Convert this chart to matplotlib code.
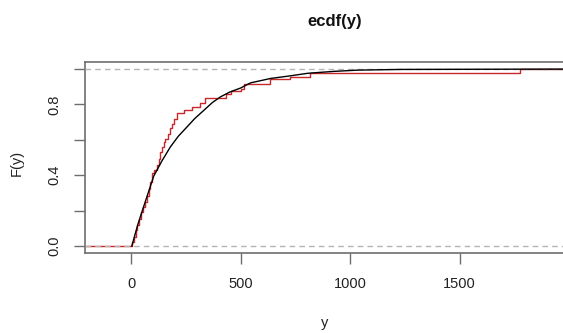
import matplotlib.pyplot as plt

plt.rcParams['font.family'] = ['Liberation Sans', 'DejaVu Sans']

# red empirical steps: jump position and level after the jump
red_x = [0, 5, 12, 20, 28, 36, 45, 55, 64, 72, 80, 88, 95, 105, 118, 125,
         133, 140, 148, 156, 166, 179, 186, 194, 209, 240, 278, 316, 339,
         435, 455, 500, 513, 632, 725, 815, 1775]
red_F = [0.0, 0.025, 0.05, 0.09, 0.12, 0.15, 0.19, 0.22, 0.25, 0.28, 0.32,
         0.36, 0.41, 0.43, 0.455, 0.49, 0.53, 0.56, 0.585, 0.607, 0.635,
         0.664, 0.69, 0.72, 0.752, 0.767, 0.786, 0.809, 0.839, 0.86, 0.875,
         0.89, 0.915, 0.943, 0.958, 0.976, 1.0]

# black reference curve
black_x = [3, 30, 56, 103, 140, 179, 215, 255, 290, 332, 370, 408, 450, 500,
           545, 637, 728, 805, 858, 927, 1034, 1232, 2000]
black_F = [0.0, 0.12, 0.219, 0.395, 0.48, 0.56, 0.62, 0.673, 0.72, 0.767,
           0.81, 0.843, 0.87, 0.893, 0.922, 0.947, 0.962, 0.976, 0.981,
           0.987, 0.994, 0.998, 1.0]

x_ticks = [0, 500, 1000, 1500]
y_ticks = [0.0, 0.2, 0.4, 0.6, 0.8, 1.0]
y_labels = ['0.0', '', '0.4', '', '0.8', '']

xmin, xmax = -211, 1995

fig = plt.figure(figsize=(5.63, 3.33), dpi=100)
ax = fig.add_axes([85 / 563, 80 / 333, 483 / 563, 191 / 333])

# red ecdf, extended to the left at 0 and to the right at 1
ax.step([xmin] + red_x + [xmax], [0.0] + red_F + [1.0], where='post',
        color='#c8282a', lw=1.0, zorder=2)
ax.axhline(0, color='#b4b4b4', lw=1.0, ls=(0, (4, 3)), zorder=3)
ax.axhline(1, color='#b4b4b4', lw=1.0, ls=(0, (4, 3)), zorder=3)
ax.plot(black_x, black_F, color='black', lw=1.0, zorder=4)

ax.set_xlim(xmin, xmax)
ax.set_ylim(-0.04, 1.04)
ax.set_xticks(x_ticks)
ax.set_yticks(y_ticks)
ax.set_yticklabels(y_labels, rotation=90, va='center')

for s in ax.spines.values():
    s.set_color('#6e6e6e')
    s.set_linewidth(1.2)
ax.tick_params(axis='both', colors='#6e6e6e', labelcolor='#222222',
               length=8, width=1.0, labelsize=10.5)
ax.tick_params(axis='x', pad=9)
ax.tick_params(axis='y', pad=9)

ax.set_title('ecdf(y)', fontsize=12, fontweight='bold', color='#111111',
             x=(335 - 85) / 483, pad=26)
ax.set_xlabel('y', fontsize=10.5, color='#222222')
ax.xaxis.set_label_coords((325 - 85) / 483, -0.33)
ax.set_ylabel('F(y)', fontsize=10.5, color='#222222')
ax.yaxis.set_label_coords(-(85 - 24) / 483, 0.47)

fig.savefig('out.png', dpi=100)
